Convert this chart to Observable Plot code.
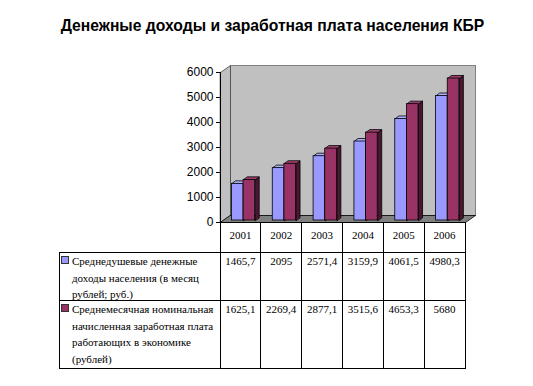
<!DOCTYPE html>
<html>
<head>
<meta charset="utf-8">
<script src="https://cdn.jsdelivr.net/npm/d3@7"></script>
<script src="https://cdn.jsdelivr.net/npm/@observablehq/plot@0.6"></script>
<style>
  html, body { margin: 0; padding: 0; background: #fff; }
  #wrap { position: relative; width: 533px; height: 386px; overflow: hidden; }
  #title { position: absolute; left: 6px; width: 533px; top: 17px; text-align: center;
           font-family: "Liberation Sans", Arial, sans-serif; font-weight: bold; font-size: 15.7px; color: #000; }
  .ln { position: absolute; background: #000; }
  .txt { position: absolute; font-family: "Liberation Serif", "DejaVu Serif", serif; font-size: 11px; color: #000; white-space: nowrap; }
  .sq { position: absolute; width: 6px; height: 6px; border: 1px solid #333; }
</style>
</head>
<body>
<div id="wrap">
  <div id="title">Денежные доходы и заработная плата населения КБР</div>
</div>
<script>
// ---- data ----
const years = ["2001", "2002", "2003", "2004", "2005", "2006"];
const income = [1465.7, 2095, 2571.4, 3159.9, 4061.5, 4980.3];
const wage = [1625.1, 2269.4, 2877.1, 3515.6, 4653.3, 5680];
const incomeLabel = ["Среднедушевые денежные", "доходы населения (в месяц", "рублей; руб.)"];
const wageLabel = ["Среднемесячная номинальная", "начисленная заработная плата", "работающих в экономике", "(рублей)"];
const yTicks = [0, 1000, 2000, 3000, 4000, 5000, 6000];

// ---- layout / style ----
const W = 533, H = 230;
const M = {top: 72, right: 68, bottom: 8, left: 220};
const yMax = 6000;
const n = years.length;
const kx = (W - M.left - M.right) / n;       // px per category
const ky = (H - M.top - M.bottom) / yMax;    // px per unit
const wall = {dx: 10, dy: 7};
const depth = {dx: 4, dy: 3};
const barOff = 0.28, barW = 0.285;
const series = [
  {values: income, front: "#9999FF", top: "#ADADFF", side: "#6B6BC9", label: incomeLabel},
  {values: wage, front: "#993366", top: "#A33F70", side: "#4A1730", label: wageLabel}
];
const wdx = wall.dx / kx, wdy = wall.dy / ky;
const ddx = depth.dx / kx, ddy = depth.dy / ky;

const floor = [
  {x: 0, y: 0}, {x: n, y: 0}, {x: n + wdx, y: wdy}, {x: wdx, y: wdy}
];
const leftWall = [
  {x: 0, y: 0}, {x: wdx, y: wdy}, {x: wdx, y: yMax + wdy}, {x: 0, y: yMax}
];

const barMarks = [];
series.forEach((s, si) => {
  const bars = s.values.map((v, i) => {
    const a = i + barOff + si * barW;
    return {a, b: a + barW, v, k: `${si}-${i}`};
  });
  const tops = bars.flatMap(d => [
    {x: d.a, y: d.v, k: d.k}, {x: d.b, y: d.v, k: d.k},
    {x: d.b + ddx, y: d.v + ddy, k: d.k}, {x: d.a + ddx, y: d.v + ddy, k: d.k}
  ]);
  const sides = bars.flatMap(d => [
    {x: d.b, y: 0, k: d.k}, {x: d.b, y: d.v, k: d.k},
    {x: d.b + ddx, y: d.v + ddy, k: d.k}, {x: d.b + ddx, y: ddy, k: d.k}
  ]);
  barMarks.push(
    Plot.line(sides, {x: "x", y: "y", z: "k", fill: s.side, stroke: "#000", strokeWidth: 0.8, curve: "linear-closed", dy: -2}),
    Plot.line(tops, {x: "x", y: "y", z: "k", fill: s.top, stroke: "#000", strokeWidth: 0.8, curve: "linear-closed", dy: -2}),
    Plot.rect(bars, {x1: "a", x2: "b", y1: 0, y2: "v", fill: s.front, stroke: "#000", strokeWidth: 0.8, dy: -2})
  );
});

const chart = Plot.plot({
  width: W, height: H,
  marginTop: M.top, marginRight: M.right, marginBottom: M.bottom, marginLeft: M.left,
  style: {fontFamily: "'Liberation Sans', Arial, sans-serif", fontSize: "12px", color: "#000", background: "transparent", overflow: "visible"},
  x: {domain: [0, n], axis: null},
  y: {domain: [0, yMax], ticks: yTicks, tickSize: 4, tickPadding: 3, label: null, tickFormat: d => String(d)},
  marks: [
    Plot.frame({fill: "#C0C0C0", stroke: "#808080", dx: wall.dx, dy: -wall.dy}),
    Plot.line(leftWall, {x: "x", y: "y", fill: "#C0C0C0", stroke: "#404040", strokeWidth: 0.8, curve: "linear-closed"}),
    Plot.line(floor, {x: "x", y: "y", fill: "#808080", stroke: "#000", strokeWidth: 0.8, curve: "linear-closed"}),
    ...barMarks,
    Plot.ruleX([0], {stroke: "#000"}),
    Plot.ruleY([0], {stroke: "#000"})
  ]
});
chart.style.position = "absolute";
chart.style.left = "0px";
chart.style.top = "0px";
const wrap = document.getElementById("wrap");
wrap.appendChild(chart);

// ---- data table below the chart ----
const xs = chart.scale("x");
const colX = d3.range(n + 1).map(i => xs.apply(i));
const tableLeft = 59;
const rowY = [H - M.bottom, 252, 300, 368];   // header top, row1 top, row2 top, bottom

function line(x, y, w, h) {
  const d = document.createElement("div");
  d.className = "ln";
  Object.assign(d.style, {left: x + "px", top: y + "px", width: w + "px", height: h + "px"});
  wrap.appendChild(d);
}
function text(str, x, y, w, align) {
  const d = document.createElement("div");
  d.className = "txt";
  d.textContent = str;
  Object.assign(d.style, {left: x + "px", top: y + "px", lineHeight: "16.5px"});
  if (w != null) { d.style.width = w + "px"; d.style.textAlign = align; }
  wrap.appendChild(d);
  return d;
}
const right = colX[n];
[rowY[1], rowY[2], rowY[3]].forEach(y => line(tableLeft, y - 0.5, right - tableLeft + 0.5, 1));
line(tableLeft - 0.5, rowY[1], 1, rowY[3] - rowY[1]);
colX.forEach(x => line(x - 0.5, rowY[0], 1, rowY[3] - rowY[0]));

years.forEach((yr, i) => {
  text(yr, colX[i], rowY[0] + 5, colX[i + 1] - colX[i], "center");
});
series.forEach((s, si) => {
  const top = rowY[si + 1] + 1;
  const sq = document.createElement("div");
  sq.className = "sq";
  Object.assign(sq.style, {left: "61px", top: (top + 3) + "px", background: s.front});
  wrap.appendChild(sq);
  s.label.forEach((l, li) => text(l, 72, top + li * 16.5));
  s.values.forEach((v, i) => text(String(v).replace(".", ","), colX[i], top, colX[i + 1] - colX[i], "center"));
});
</script>
</body>
</html>
